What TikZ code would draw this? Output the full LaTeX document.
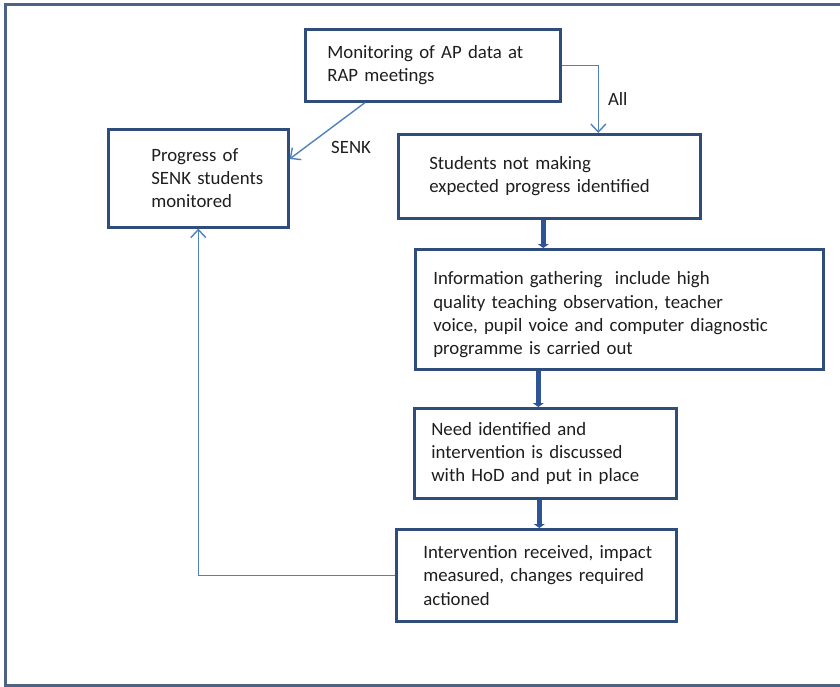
\documentclass[tikz,border=0pt]{standalone}
\usepackage{fontspec}
\setmainfont{Carlito}
\usetikzlibrary{arrows.meta}
\definecolor{boxblue}{HTML}{2E4D7B}
\definecolor{linkblue}{HTML}{4F81BD}
\definecolor{flowblue}{HTML}{2F5496}
\definecolor{framegrey}{HTML}{4D6383}
\definecolor{textgrey}{HTML}{1E1E1E}

\begin{document}
\begin{tikzpicture}[x=1pt,y=-1pt,
  stage/.style={draw=boxblue,line width=2.6pt,fill=white,anchor=north west,
    align=left,inner ysep=0pt,text=textgrey,font=\fontsize{18.8}{23.3}\selectfont},
  thinlink/.style={draw=linkblue,line width=1.4pt,-{Straight Barb[length=8pt,width=15pt]}},
  thicklink/.style={draw=flowblue,line width=5pt,-{Triangle[length=4pt,width=11pt]}},
  tag/.style={text=textgrey,font=\fontsize{18.8}{22}\selectfont,inner sep=1pt}]
          \useasboundingbox (0,0) rectangle (840,687);
          \clip (0,0) rectangle (840,687);
          \draw[framegrey,line width=3pt] (5,5) rectangle (860,685);
          \node[stage,text width=211pt,inner xsep=22pt,minimum height=72pt] (mon) at (304,28)
            {Monitoring of AP data at\\RAP meetings};
          \node[stage,text width=94pt,inner xsep=43pt,minimum height=98pt] (prog) at (107,128)
            {Progress of\\\mbox{SENK students}\\monitored};
          \node[stage,text width=240pt,inner xsep=31pt,minimum height=84pt] (stud) at (397,133)
            {Students not making\\expected progress identified};
          \node[stage,text width=372pt,inner xsep=18pt,minimum height=120pt] (info) at (414,248)
            {\rule{0pt}{24pt}Information gathering ~include high\\quality teaching observation, teacher\\voice, pupil voice and computer diagnostic\\programme is carried out};
          \node[stage,text width=228pt,inner xsep=17pt,minimum height=90pt] (need) at (413,407)
            {Need identified and\\intervention is discussed\\with HoD and put in place};
          \node[stage,text width=226pt,inner xsep=27pt,minimum height=92pt] (act) at (395,528)
            {\mbox{Intervention received, impact}\\measured, changes required\\actioned};
          \draw[thinlink] (mon.east) -| node[tag,pos=0.75,right=8pt] {All} ([xshift=49pt]stud.north);
          \draw[thinlink] ([xshift=61pt]mon.south west) -- node[tag,pos=0.55,below right=6pt] {SENK} ([yshift=-31pt]prog.north east);
          \draw[thicklink] ([xshift=-2pt]stud.south -| need.north) -- ([xshift=-2pt]info.north -| need.north);
          \draw[thicklink] ([xshift=-7pt]need.north |- info.south) -- ([xshift=-7pt]need.north);
          \draw[thicklink] ([xshift=-6pt]need.south) -- ([xshift=-6pt]need.south |- act.north);
          \draw[thinlink] (act.west) -| (prog.south);
        \end{tikzpicture}
\end{document}
